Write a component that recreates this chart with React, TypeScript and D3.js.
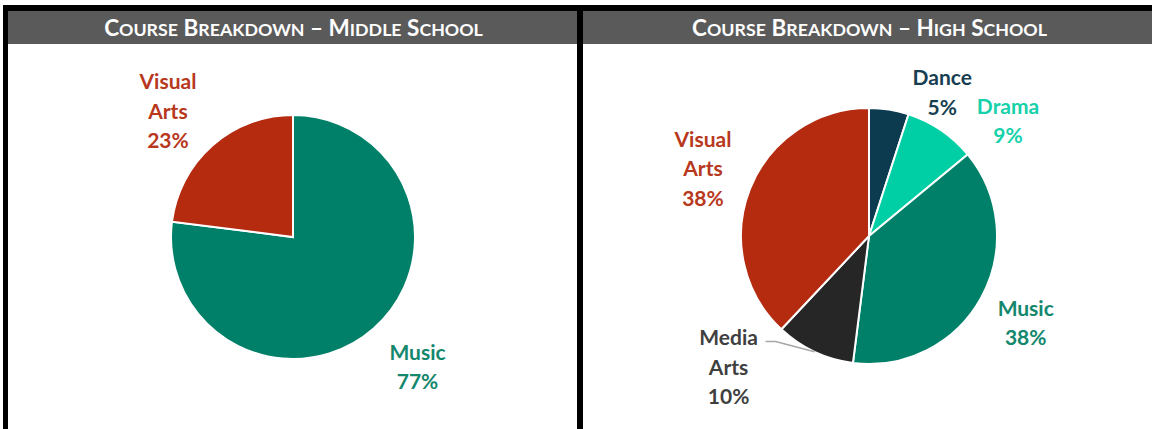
import * as d3 from "d3";
import React from "react";

// middle school
const msCourses = ["Music", "Visual Arts"];
const msShares = [77, 23];

// high school
const hsCourses = ["Dance", "Drama", "Music", "Media Arts", "Visual Arts"];
const hsShares = [5, 9, 38, 10, 38];

const titles = ["Course Breakdown – Middle School", "Course Breakdown – High School"];

const sliceColor: Record<string, string> = {
  Music: "#008068",
  "Visual Arts": "#b42b10",
  Dance: "#0c3a4f",
  Drama: "#00cfa6",
  "Media Arts": "#262626",
};
const labelColor: Record<string, string> = {
  Music: "#14876d",
  "Visual Arts": "#b8381d",
  Dance: "#173f51",
  Drama: "#16d1aa",
  "Media Arts": "#3f3f3f",
};
const labelLines: Record<string, string[]> = {
  Music: ["Music"],
  "Visual Arts": ["Visual", "Arts"],
  Dance: ["Dance"],
  Drama: ["Drama"],
  "Media Arts": ["Media", "Arts"],
};

// where excel put each label: angle (deg, clockwise from 12) and radius factor
type Move = { angle: number; dist: number };
const msLabelMoves: Record<string, Move> = {
  Music: { angle: 136.2, dist: 1.475 },
  "Visual Arts": { angle: 315.2, dist: 1.455 },
};
const hsLabelMoves: Record<string, Move> = {
  Dance: { angle: 27, dist: 1.26 },
  Drama: { angle: 50.4, dist: 1.41 },
  Music: { angle: 119, dist: 1.4 },
  "Media Arts": { angle: 227, dist: 1.5 },
  "Visual Arts": { angle: 292.1, dist: 1.4 },
};

const W = 1152;
const H = 429;
const FONT = "Lato, 'Open Sans', sans-serif";

type PieProps = {
  names: string[];
  values: number[];
  cx: number;
  cy: number;
  r: number;
  moves?: Record<string, Move>;
  leader?: string;
};

function Pie({ names, values, cx, cy, r, moves = {}, leader }: PieProps) {
  const rows = names.map((n, i) => ({ name: n, value: values[i] }));
  const pie = d3.pie<{ name: string; value: number }>().sort(null).value((d) => d.value);
  const arcs = pie(rows);
  const arc = d3.arc<d3.PieArcDatum<{ name: string; value: number }>>().innerRadius(0).outerRadius(r);
  const total = d3.sum(values);
  const lineH = 29.5;

  return (
    <g transform={`translate(${cx},${cy})`}>
      {arcs.map((a) => (
        <path key={a.data.name} d={arc(a) || ""} fill={sliceColor[a.data.name]} stroke="#fff" strokeWidth={2} />
      ))}
      {arcs.map((a) => {
        const mid = (a.startAngle + a.endAngle) / 2;
        const mv = moves[a.data.name];
        const ang = mv ? (mv.angle * Math.PI) / 180 : mid;
        const dist = (mv ? mv.dist : 1.45) * r;
        const lx = Math.sin(ang) * dist;
        const ly = -Math.cos(ang) * dist;
        const lines = [...labelLines[a.data.name], `${Math.round((a.data.value / total) * 100)}%`];
        const top = ly - ((lines.length - 1) * lineH) / 2;
        let lead = null;
        if (leader === a.data.name) {
          const ex = Math.sin(mid) * r;
          const ey = -Math.cos(mid) * r;
          const sx = lx + 37;
          const sy = top + 4;
          lead = (
            <path d={`M${sx},${sy}H${sx + 10}L${ex},${ey}`} fill="none" stroke="#a6a6a6" strokeWidth={1.5} />
          );
        }
        return (
          <g key={"l" + a.data.name}>
            {lead}
            <text
              textAnchor="middle"
              fontFamily={FONT}
              fontWeight={700}
              fontSize={21}
              fill={labelColor[a.data.name]}
            >
              {lines.map((t, i) => (
                <tspan key={i} x={lx} y={top + i * lineH} dy="0.36em">
                  {t}
                </tspan>
              ))}
            </text>
          </g>
        );
      })}
    </g>
  );
}

// hand-made small caps: first letter of each word big, the rest smaller
function SmallCaps({ text, x, y }: { text: string; x: number; y: number }) {
  const words = text.split(" ");
  return (
    <text x={x} y={y} textAnchor="middle" fontFamily={FONT} fontWeight={700} fill="#fff">
      {words.map((w, i) => (
        <React.Fragment key={i}>
          <tspan fontSize={22.5}>{(i > 0 ? " " : "") + w[0].toUpperCase()}</tspan>
          {w.length > 1 && <tspan fontSize={17.8}>{w.slice(1).toUpperCase()}</tspan>}
        </React.Fragment>
      ))}
    </text>
  );
}

export default function App() {
  const headerTop = 11;
  const headerH = 33;
  return (
    <svg width={W} height={H} style={{ position: "absolute", left: 0, top: 0, background: "#fff" }}>
      <rect x={0} y={0} width={W} height={H} fill="#fff" />
      {/* header bars */}
      <rect x={8} y={headerTop} width={569} height={headerH} fill="#5a5a5a" />
      <rect x={583} y={headerTop} width={W - 583} height={headerH} fill="#5a5a5a" />
      {/* black frame */}
      <rect x={3} y={5} width={W - 3} height={6} fill="#000" />
      <rect x={3} y={5} width={5} height={H - 5} fill="#000" />
      <rect x={577} y={5} width={6} height={H - 5} fill="#000" />
      {titles.map((t, i) => (
        <SmallCaps key={t} text={t} x={i === 0 ? 293.5 : 869.5} y={headerTop + headerH / 2 + 8} />
      ))}
      <Pie names={msCourses} values={msShares} cx={293} cy={237} r={122} moves={msLabelMoves} />
      <Pie names={hsCourses} values={hsShares} cx={869} cy={236} r={128} moves={hsLabelMoves} leader="Media Arts" />
    </svg>
  );
}
